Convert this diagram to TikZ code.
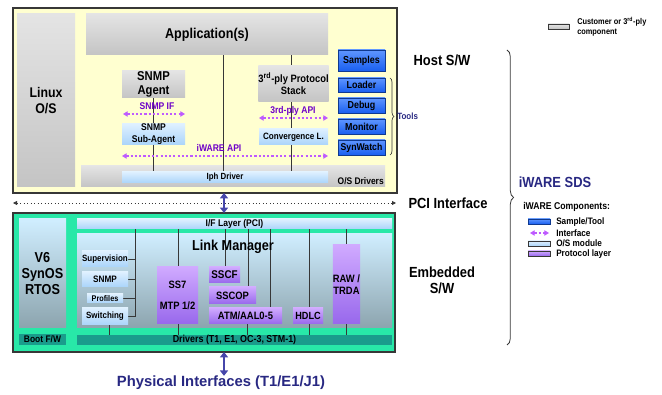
\documentclass[tikz,border=0pt]{standalone}
\usepackage{fontspec}
\setmainfont{Liberation Sans}[FakeStretch=0.88]
\newfontfamily\widefont{Liberation Sans}
\usetikzlibrary{arrows.meta,decorations.pathreplacing}
\pgfdeclarelayer{back}
\pgfdeclarelayer{mid}
\pgfsetlayers{back,mid,main}
\newcommand{\myfs}[2]{\fontsize{#1}{#2}\selectfont}
\definecolor{hostbg}{RGB}{255,255,208}
\definecolor{grayT}{RGB}{228,228,228}
\definecolor{grayB}{RGB}{196,196,196}
\definecolor{lbT}{RGB}{222,240,255}
\definecolor{lbB}{RGB}{170,212,250}
\definecolor{blT}{RGB}{95,150,255}
\definecolor{blB}{RGB}{25,95,240}
\definecolor{grn}{RGB}{40,232,168}
\definecolor{tealbar}{RGB}{26,156,140}
\definecolor{puT}{RGB}{208,170,255}
\definecolor{puB}{RGB}{152,104,236}
\definecolor{lmT}{RGB}{208,238,255}
\definecolor{lmB}{RGB}{140,164,174}
\definecolor{navy}{RGB}{40,40,130}
\definecolor{ifc}{RGB}{190,90,255}
\definecolor{ifctext}{RGB}{110,0,200}
\definecolor{arr}{RGB}{70,70,170}
\definecolor{ln}{RGB}{55,55,55}
\tikzset{
  box/.style={inner sep=0pt, outer sep=0pt, align=center, text=black},
  grayb/.style={box, top color=grayT, bottom color=grayB},
  lblue/.style={box, top color=lbT, bottom color=lbB},
  toolb/.style={box, top color=blT, bottom color=blB, draw=blB!60!black, line width=0.4pt},
  purp/.style={box, top color=puT, bottom color=puB},
  lmgrad/.style={box, top color=lmT, bottom color=lmB},
  tbar/.style={box, fill=tealbar},
  conn/.style={draw=ln, line width=0.6pt},
  ifarrow/.style={draw=ifc, line width=0.8pt, dash pattern=on 1.6pt off 1.6pt,
     {Triangle[length=3.5pt,width=4pt]}-{Triangle[length=3.5pt,width=4pt]}},
  ifl/.style={text=ifctext, font=\bfseries\myfs{7.3}{8}},
  big/.style={font=\bfseries\myfs{11}{12}},
  legt/.style={anchor=west, inner sep=0pt, font=\bfseries\myfs{7}{8}},
  pciarr/.style={draw=arr, line width=1.6pt, {Triangle[length=4pt,width=6pt]}-{Triangle[length=4pt,width=6pt]}},
}
% \bx{name}{style}{x1}{y1}{x2}{y2}{size}{baselineskip}{text}  (pixel coordinates)
\newcommand{\bx}[9]{\node[#2, font=\bfseries\myfs{#7}{#8}, minimum width={(#5-#3)*0.75pt}, minimum height={(#6-#4)*0.75pt}, anchor=center] (#1) at ({(#3+#5)/2},{(#4+#6)/2}) {#9};}
\begin{document}
\begin{tikzpicture}[x=0.75pt,y=-0.75pt]
\path[use as bounding box] (0,0) rectangle (662,395);

% ---------- containers ----------
\begin{pgfonlayer}{back}
\bx{host}{box, fill=hostbg, draw=ln, line width=0.8pt}{13}{8}{397}{193}{8}{8}{}
\bx{osdrv}{grayb}{81}{166}{385}{187}{8}{8}{}
\bx{emb}{box, fill=grn, draw=ln, line width=0.8pt}{13}{213}{395}{352}{8}{8}{}
\bx{lm}{lmgrad}{77}{234}{392}{328}{8}{8}{}
\end{pgfonlayer}

% ---------- host boxes ----------
\bx{linux}{grayb}{17}{14}{75}{187}{10.5}{12}{Linux\\O/S}
\bx{app}{grayb}{86}{14}{328}{55}{10.7}{12}{Application(s)}
\bx{snmpag}{grayb}{122}{71}{185}{98}{9.6}{10}{SNMP\\Agent}
\bx{snmpsub}{lblue}{122}{124}{185}{145}{7.3}{9}{SNMP\\Sub-Agent}
\bx{stack}{grayb}{259}{66}{328}{102}{8}{9}{3\textsuperscript{rd}-ply Protocol\\Stack}
\bx{conv}{lblue}{259}{129}{328}{145}{6.9}{8}{Convergence L.}
\bx{iph}{lblue}{122}{172}{328}{183}{6.7}{7}{Iph Driver}
\node[anchor=east, font=\bfseries\myfs{7.2}{8}, inner sep=0pt] (osdtxt) at (384,181) {O/S Drivers};

\bx{samples}{toolb}{338}{50}{385}{71}{7.6}{8}{Samples}
\bx{loader}{toolb}{338}{78}{385}{92}{7.6}{8}{Loader}
\bx{debug}{toolb}{338}{98}{385}{113}{7.6}{8}{Debug}
\bx{monitor}{toolb}{338}{119}{385}{134}{7.6}{8}{Monitor}
\bx{synwatch}{toolb}{338}{140}{385}{155}{7.4}{8}{SynWatch}
\coordinate (tbT) at (390,78);
\coordinate (tbB) at (390,155);
\draw[ln, line width=0.5pt, decorate, decoration={brace, amplitude=3pt}] (tbT) -- (tbB);
\node[anchor=west, text=navy, font=\bfseries\myfs{6.8}{7}, inner sep=0pt] (tools) at (397,116) {Tools};

% interface arrows and labels
\coordinate (ia1) at (123,114); \coordinate (ib1) at (185,114);
\coordinate (ia2) at (259,118); \coordinate (ib2) at (328,118);
\coordinate (ia3) at (122,156); \coordinate (ib3) at (328,156);
\draw[ifarrow] (ia1) -- (ib1);
\draw[ifarrow] (ia2) -- (ib2);
\draw[ifarrow] (ia3) -- (ib3);
\node[ifl] (snmpif) at (157,106) {SNMP IF};
\node[ifl] (api3) at (293,111) {3rd-ply API};
\node[ifl] (iwapi) at (219,148) {iWARE API};

% host vertical lines
\coordinate (hx2) at (223,0);
\coordinate (hx3) at (291,0);
\begin{pgfonlayer}{mid}
\draw[conn] (snmpag.south) -- (snmpag.south |- iph.north);
\draw[conn] (hx2 |- app.south) -- (hx2 |- iph.north);
\draw[conn] (hx3 |- app.south) -- (hx3 |- iph.north);
\end{pgfonlayer}

% PCI
\coordinate (pciL) at (13,203);
\coordinate (pciR) at (396,203);
\draw[ln, line width=0.6pt, dotted, {Triangle[length=3pt,width=3pt]}-{Triangle[length=3pt,width=3pt]}] (pciL) -- (pciR);
\coordinate (px) at (224,0);
\draw[pciarr] (px |- host.south) -- (px |- emb.north);

% ---------- embedded boxes ----------
\bx{v6}{lmgrad}{19}{219}{66}{328}{10.8}{12}{V6\\SynOS\\RTOS}
\bx{boot}{tbar}{19}{334}{66}{345}{7.2}{8}{Boot F/W}
\bx{ifl}{lblue}{77}{219}{392}{229}{7.3}{8}{I/F Layer (PCI)}
\node[font=\bfseries\myfs{10.8}{12}, inner sep=0pt] (lmtxt) at (233,247) {Link Manager};
\bx{drv}{tbar}{77}{335}{392}{345}{7.6}{8}{Drivers (T1, E1, OC-3, STM-1)}

\bx{sup}{lblue}{82}{251}{128}{267}{6.8}{7}{Supervision}
\bx{snmp2}{lblue}{82}{272}{128}{287}{7}{7}{SNMP}
\bx{prof}{lblue}{87}{294}{123}{303}{6.2}{7}{Profiles}
\bx{sw}{lblue}{82}{308}{128}{325}{6.8}{7}{Switching}

\bx{ss7}{purp}{157}{267}{198}{324}{8}{16}{SS7\\MTP 1/2}
\bx{sscf}{purp}{209}{267}{240}{283}{8.4}{9}{SSCF}
\bx{sscop}{purp}{209}{287}{256}{304}{8}{9}{SSCOP}
\bx{atm}{purp}{209}{308}{282}{324}{8}{9}{ATM/AAL0-5}
\bx{hdlc}{purp}{293}{308}{323}{324}{7.8}{9}{HDLC}
\bx{raw}{purp}{333}{245}{360}{324}{8}{9}{RAW /\\TRDA}

\coordinate (bx) at (135,0);
\coordinate (swx) at (109,0);
\coordinate (ssx) at (178,0);
\coordinate (cfx) at (225,0);
\coordinate (cpx) at (248,0);
\coordinate (atx) at (270,0);
\coordinate (atd) at (247,0);
\coordinate (hdx) at (309,0);
\coordinate (rwx) at (346,0);
\begin{pgfonlayer}{mid}
\draw[conn] (bx |- ifl.south) -- (bx |- sw.east) -- (sw.east);
\draw[conn] (sup.east) -- (bx |- sup.east);
\draw[conn] (snmp2.east) -- (bx |- snmp2.east);
\draw[conn] (prof.east) -- (bx |- prof.east);
\draw[conn] (swx |- sw.south) -- (swx |- drv.north);
\draw[conn] (ssx |- ifl.south) -- (ssx |- ss7.north);
\draw[conn] (ssx |- ss7.south) -- (ssx |- drv.north);
\draw[conn] (cfx |- ifl.south) -- (cfx |- sscf.north);
\draw[conn] (cpx |- ifl.south) -- (cpx |- sscop.north);
\draw[conn] (atx |- ifl.south) -- (atx |- atm.north);
\draw[conn] (atd |- atm.south) -- (atd |- drv.north);
\draw[conn] (hdx |- ifl.south) -- (hdx |- hdlc.north);
\draw[conn] (hdx |- hdlc.south) -- (hdx |- drv.north);
\draw[conn] (rwx |- ifl.south) -- (rwx |- raw.north);
\draw[conn] (rwx |- raw.south) -- (rwx |- drv.north);
\end{pgfonlayer}

% physical interface
\node[text=navy, font=\widefont\bfseries\myfs{11.1}{12}, inner sep=0pt] (phys) at (221,383) {Physical Interfaces (T1/E1/J1)};
\draw[pciarr] (px |- emb.south) -- (px |- phys.north);

% ---------- right side ----------
\node[big] (hostsw) at (442,60) {Host S/W};
\node[big] (pcitxt) at (448,203) {PCI Interface};
\node[big, align=center] (embsw) at (442,280) {Embedded\\S/W};
\coordinate (brT) at (507,50);
\coordinate (brB) at (507,345);
\draw[ln, line width=0.6pt, decorate, decoration={brace, amplitude=5pt}] (brT) -- (brB);
\node[text=navy, font=\bfseries\myfs{11}{12}] (sds) at (555,182) {iWARE SDS};
\node[legt, font=\bfseries\myfs{7.4}{8}] (comp) at (523,207) {iWARE Components:};

\bx{lg1}{box, top color=blT, bottom color=blB, draw=blB!60!black, line width=0.5pt}{528}{219}{550}{224}{7}{8}{}
\node[legt] (lt1) at (556,222) {Sample/Tool};
\coordinate (lg2a) at (530,233); \coordinate (lg2b) at (549,233);
\draw[ifarrow] (lg2a) -- (lg2b);
\node[legt] (lt2) at (556,233) {Interface};
\bx{lg3}{box, top color=lbT, bottom color=lbB, draw=ln, line width=0.5pt}{528}{241}{550}{246}{7}{8}{}
\node[legt] (lt3) at (556,243) {O/S module};
\bx{lg4}{box, top color=puT, bottom color=puB, draw=ln, line width=0.5pt}{528}{251}{550}{256}{7}{8}{}
\node[legt] (lt4) at (556,254) {Protocol layer};

\bx{lg0}{box, top color=grayT, bottom color=grayB, draw=ln, line width=0.5pt}{548}{24}{569}{29}{7}{8}{}
\node[anchor=west, inner sep=0pt, align=left, font=\bfseries\myfs{6.3}{7.5}] (lt0) at (577,27) {Customer or 3\textsuperscript{rd}-ply\\component};
\end{tikzpicture}
\end{document}
